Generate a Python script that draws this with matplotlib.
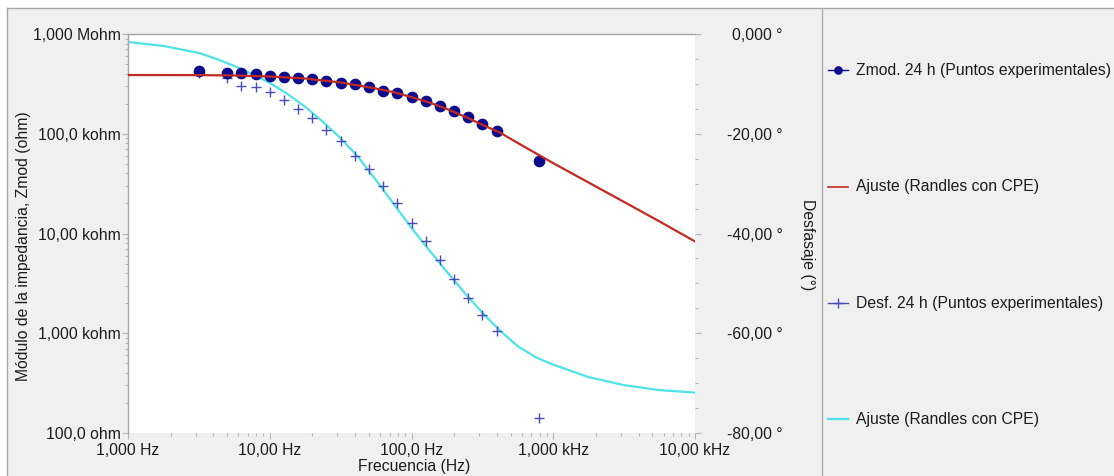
import matplotlib
matplotlib.use("Agg")
import matplotlib.pyplot as plt
from matplotlib.lines import Line2D
from matplotlib.patches import Rectangle
from matplotlib.ticker import FixedLocator, FixedFormatter, LogLocator, MultipleLocator, NullFormatter

plt.rcParams['font.family'] = ['Liberation Sans', 'DejaVu Sans']

# ---- measured data (24 h) ----
freq_exp = [3.16, 5.01, 6.31, 7.94, 10.0, 12.6, 15.8, 20.0, 25.1, 31.6, 39.8,
            50.1, 63.1, 79.4, 100, 126, 158, 200, 251, 316, 398, 794]
zmod_exp = [428e3, 404e3, 404e3, 394e3, 382e3, 373e3, 360e3, 351e3, 340e3,
            325e3, 313e3, 294e3, 270e3, 255e3, 232e3, 213e3, 191e3, 170e3,
            148e3, 125e3, 107e3, 53.3e3]
phase_exp = [-7.8, -8.9, -10.4, -10.6, -11.7, -13.2, -15.0, -16.9, -19.3, -21.5,
             -24.4, -27.1, -30.5, -33.8, -37.8, -41.5, -45.3, -49.2, -53.0,
             -56.3, -59.5, -76.9]

# ---- Randles + CPE fitted curves ----
freq_fit_z = [1.0, 3.16, 5.62, 10.0, 17.8, 31.6, 56.2, 75.0, 100, 133, 178, 237,
              316, 422, 562, 1000, 1778, 3162, 5623, 10000]
zmod_fit = [388e3, 387e3, 384e3, 375e3, 358e3, 327e3, 284e3, 261e3, 233e3,
            206e3, 177e3, 149e3, 123e3, 102.5e3, 80.8e3, 50.7e3, 32.4e3,
            20.7e3, 13.2e3, 8.32e3]

freq_fit_ph = [1.0, 1.78, 3.16, 4.22, 5.62, 7.50, 10.0, 13.3, 17.8, 23.7, 31.6,
               42.2, 56.2, 75.0, 100, 133, 178, 237, 316, 422, 562, 750, 1000,
               1778, 3162, 5623, 10000]
phase_fit = [-1.6, -2.4, -3.8, -5.0, -6.4, -8.0, -9.8, -12.0, -14.6, -17.6,
             -20.9, -24.7, -29.3, -34.1, -38.9, -43.3, -47.7, -51.9, -55.9,
             -59.5, -62.6, -64.8, -66.3, -68.8, -70.4, -71.4, -71.9]

# ---- axis ticks and labels ----
x_ticks = [1, 10, 100, 1000, 10000]
x_tick_labels = ["1,000 Hz", "10,00 Hz", "100,0 Hz", "1,000 kHz", "10,00 kHz"]
z_ticks = [1e2, 1e3, 1e4, 1e5, 1e6]
z_tick_labels = ["100,0 ohm", "1,000 kohm", "10,00 kohm", "100,0 kohm", "1,000 Mohm"]
ph_ticks = [0, -20, -40, -60, -80]
ph_tick_labels = ["0,000 °", "-20,00 °", "-40,00 °", "-60,00 °", "-80,00 °"]

legend_labels = ["Zmod. 24 h (Puntos experimentales)",
                 "Ajuste (Randles con CPE)",
                 "Desf. 24 h (Puntos experimentales)",
                 "Ajuste (Randles con CPE)"]

C_CIRCLE = "#0c0c8c"
C_RED = "#c02a22"
C_CROSS = "#4a4ab8"
C_CYAN = "#4fe3e8"
C_TICK = "#b4b4b4"
C_TEXT = "#1c1c1c"
FS = 11.3

W, H = 1114, 476
fig = plt.figure(figsize=(W / 100, H / 100), dpi=100, facecolor="white")


def fx(px):
    return px / W


def fy(py):
    return 1 - py / H


# panel background and frame
fig.add_artist(Rectangle((fx(7), 0), 1 - fx(7), fy(8), transform=fig.transFigure,
                         facecolor="#f0f0f0", edgecolor="none", zorder=0))
fig.add_artist(Line2D([fx(7), 1], [fy(8), fy(8)], transform=fig.transFigure,
                      color="#a6a6a6", lw=1.0))
fig.add_artist(Line2D([fx(7), fx(7)], [0, fy(8)], transform=fig.transFigure,
                      color="#a6a6a6", lw=1.0))
fig.add_artist(Line2D([fx(822), fx(822)], [0, fy(8)], transform=fig.transFigure,
                      color="#b0b0b0", lw=1.0))

rect = [fx(128), fy(433), (695 - 128) / W, (433 - 34) / H]
ax_z = fig.add_axes(rect)
ax_ph = ax_z.twinx()
ax_z.set_zorder(2)
ax_ph.set_zorder(1)
ax_z.patch.set_visible(False)
ax_ph.patch.set_visible(True)
ax_ph.patch.set_facecolor("white")

# phase (right axis)
ax_ph.plot(freq_fit_ph, phase_fit, color=C_CYAN, lw=1.6, solid_joinstyle="round",
           zorder=2)
ax_ph.plot(freq_exp, phase_exp, linestyle="none", marker="+", ms=7.5, mew=1.0,
           color=C_CROSS, zorder=3)
# impedance modulus (left axis)
ax_z.plot(freq_exp, zmod_exp, linestyle="none", marker="o", ms=7.4,
          color=C_CIRCLE, mec=C_CIRCLE, zorder=2)
ax_z.plot(freq_fit_z, zmod_fit, color=C_RED, lw=1.6, solid_joinstyle="round",
          zorder=3)

ax_z.set_xscale("log")
ax_z.set_yscale("log")
ax_z.set_xlim(1, 1e4)
ax_z.set_ylim(1e2, 1e6)
ax_ph.set_ylim(-80, 0)

ax_z.xaxis.set_major_locator(FixedLocator(x_ticks))
ax_z.xaxis.set_major_formatter(FixedFormatter(x_tick_labels))
ax_z.xaxis.set_minor_locator(LogLocator(base=10, subs=range(2, 10)))
ax_z.xaxis.set_minor_formatter(NullFormatter())
ax_z.yaxis.set_major_locator(FixedLocator(z_ticks))
ax_z.yaxis.set_major_formatter(FixedFormatter(z_tick_labels))
ax_z.yaxis.set_minor_locator(LogLocator(base=10, subs=range(2, 10)))
ax_z.yaxis.set_minor_formatter(NullFormatter())
ax_ph.yaxis.set_major_locator(FixedLocator(ph_ticks))
ax_ph.yaxis.set_major_formatter(FixedFormatter(ph_tick_labels))
ax_ph.yaxis.set_minor_locator(MultipleLocator(5))

for a in (ax_z, ax_ph):
    a.tick_params(which="both", direction="out", color=C_TICK, width=0.8,
                  labelsize=FS, labelcolor=C_TEXT)
    a.tick_params(which="major", length=4)
    a.tick_params(which="minor", length=2.5)
ax_z.tick_params(axis="x", pad=3)
ax_z.tick_params(axis="y", pad=1)
ax_ph.tick_params(axis="y", pad=59)

for a in (ax_z, ax_ph):
    for side in ("top", "left"):
        a.spines[side].set_color("#a8a8a8")
        a.spines[side].set_linewidth(0.9)
    for side in ("bottom", "right"):
        a.spines[side].set_visible(False)

for lbl in ax_ph.get_yticklabels():
    lbl.set_horizontalalignment("right")

# axis titles
fig.text(fx(24), fy(246), "Módulo de la impedancia, Zmod (ohm)", rotation=90,
         ha="center", va="center", fontsize=FS, color=C_TEXT)
fig.text(fx(807), fy(245), "Desfasaje (°)", rotation=270,
         ha="center", va="center", fontsize=FS, color=C_TEXT)
fig.text(fx(414), fy(466), "Frecuencia (Hz)", ha="center", va="center",
         fontsize=FS, color=C_TEXT)

# legend column
legend_styles = [
    dict(color=C_CIRCLE, lw=1.0, marker="o", ms=5.2),
    dict(color=C_RED, lw=1.2),
    dict(color=C_CROSS, lw=1.0, marker="+", ms=7, mew=1.0),
    dict(color=C_CYAN, lw=1.6),
]
legend_y = [70, 186.7, 303.3, 419.3]
for label, style, yy in zip(legend_labels, legend_styles, legend_y):
    fig.add_artist(Line2D([fx(828), fx(848)], [fy(yy), fy(yy)],
                          transform=fig.transFigure, color=style["color"],
                          lw=style["lw"]))
    if "marker" in style:
        fig.add_artist(Line2D([fx(838)], [fy(yy)], transform=fig.transFigure,
                              linestyle="none", marker=style["marker"],
                              ms=style["ms"], mew=style.get("mew", 1.0),
                              color=style["color"]))
    fig.text(fx(856), fy(yy), label, ha="left", va="center", fontsize=FS,
             color=C_TEXT)

fig.savefig("out.png", dpi=100, facecolor="white")
